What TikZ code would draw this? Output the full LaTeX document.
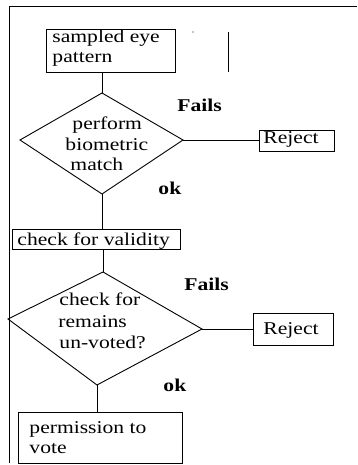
\documentclass[tikz,border=0pt]{standalone}
\usepackage{fontspec}
\setmainfont{Liberation Serif}[FakeStretch=1.2]
\begin{document}
\begin{tikzpicture}[x=1pt,y=-1pt,
  line width=0.9pt,
  box/.style={draw,inner sep=0pt,minimum width=#1},
  lbl/.style={inner sep=0pt,anchor=base west,font=\fontsize{18}{20}\selectfont},
  blbl/.style={lbl,font=\fontsize{18}{20}\selectfont\bfseries}]
\useasboundingbox (0,0) rectangle (357,465);

% outer frame (top and left edges)
\coordinate (fTL) at (9,6);
\coordinate (fTR) at (357,6);
\coordinate (fBL) at (9,463);
\draw (fTR) -- (fTL) -- (fBL);

% boxes
\node[box=129pt,minimum height=43pt] (b1) at (110.5,50.5) {};
\node[box=168pt,minimum height=20pt] (b2) at (96,239) {};
\node[box=164pt,minimum height=51pt] (b3) at (100,437.5) {};
\node[box=75pt,minimum height=21pt] (r1) at (296.5,140.5) {};
\node[box=80pt,minimum height=32pt] (r2) at (293,329) {};

% decision diamonds
\coordinate (d1t) at (102,93);
\coordinate (d1l) at (20,140);
\coordinate (d1r) at (183,140);
\coordinate (d1b) at (102,194);
\draw (d1t) -- (d1r) -- (d1b) -- (d1l) -- cycle;
\coordinate (d2t) at (103,272);
\coordinate (d2l) at (8,319);
\coordinate (d2r) at (202,329);
\coordinate (d2b) at (97,385);
\draw (d2t) -- (d2r) -- (d2b) -- (d2l) -- cycle;

% connectors
\draw (d1t) -- (d1t |- b1.south);
\draw (d1r) -- (r1.west |- d1r);
\draw (d1b) -- (d1b |- b2.north);
\draw (d2t) -- (d2t |- b2.south);
\draw (d2r) -- (r2.west |- d2r);
\draw (d2b) -- (d2b |- b3.north);

% stray mark beside the first box
\coordinate (m1) at (228,32);
\coordinate (m2) at (228,72);
\draw (m1) -- (m2);
\fill (193,32) circle (0.6pt);

% texts
\node[lbl] (t1a) at (52,43) {sampled eye};
\node[lbl] (t1b) at (52,63) {pattern};
\node[lbl] (t2a) at (72,130) {perform};
\node[lbl] (t2b) at (65,150) {biometric};
\node[lbl] (t2c) at (70,170) {match};
\node[lbl] (t3) at (17,245) {check for validity};
\node[lbl] (t4a) at (59,305) {check for};
\node[lbl] (t4b) at (58,327) {remains};
\node[lbl] (t4c) at (59,348) {un-voted?};
\node[lbl] (t5a) at (29,433) {permission to};
\node[lbl] (t5b) at (29,453) {vote};
\node[lbl] (tr1) at (263,143) {Reject};
\node[lbl] (tr2) at (263,334) {Reject};
\node[blbl] (f1) at (177,112) {Fails};
\node[blbl] (o1) at (158,194) {ok};
\node[blbl] (f2) at (184,290) {Fails};
\node[blbl] (o2) at (163,391) {ok};
\end{tikzpicture}
\end{document}
